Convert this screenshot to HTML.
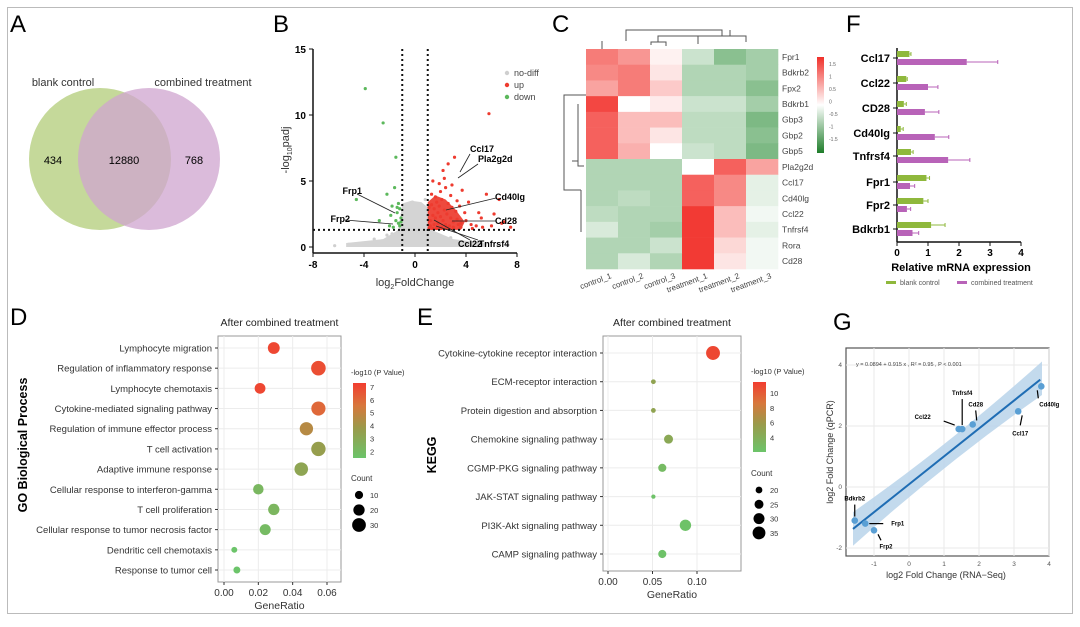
<!DOCTYPE html>
<html><head><meta charset="utf-8">
<style>
html,body{margin:0;padding:0;background:#fff;}
svg{display:block;font-family:"Liberation Sans",Arial,sans-serif;}
</style></head>
<body>
<svg id="fig" width="1080" height="627" viewBox="0 0 1080 627" xmlns="http://www.w3.org/2000/svg">
<defs>
<linearGradient id="gD" x1="0" y1="1" x2="0" y2="0"><stop offset="0" stop-color="#6cc46a"/><stop offset="0.4" stop-color="#9a9a4a"/><stop offset="0.7" stop-color="#d8773c"/><stop offset="1" stop-color="#f23d30"/></linearGradient>
<linearGradient id="gH" x1="0" y1="1" x2="0" y2="0"><stop offset="0" stop-color="#1e7d2a"/><stop offset="0.5" stop-color="#ffffff"/><stop offset="1" stop-color="#f0302a"/></linearGradient>
</defs>
<rect x="7.5" y="7.5" width="1065" height="606" fill="none" stroke="#bbb" stroke-width="1"/>
<g id="A">
<text x="10" y="32" font-size="24">A</text>
<circle cx="100" cy="159" r="71" fill="#c5d99a"/>
<circle cx="149" cy="159" r="71" fill="#cfa4cf" fill-opacity="0.75"/>
<text x="63" y="86" font-size="11" text-anchor="middle" fill="#333">blank control</text>
<text x="203" y="86" font-size="11" text-anchor="middle" fill="#333">combined treatment</text>
<text x="53" y="164" font-size="11" text-anchor="middle">434</text>
<text x="124" y="164" font-size="11" text-anchor="middle">12880</text>
<text x="194" y="164" font-size="11" text-anchor="middle">768</text>
</g>
<g id="B"></g>
<g id="C"></g>
<g id="F"></g>
<g id="D"></g>
<g id="E"></g>
<g id="G"></g>
</svg>
<script>
// ---------- Panel B data ----------
const volcUpX=[1.2,1.4,1.6,1.8,2.0,2.2,2.5,2.8,3.0,3.3,3.6,4.0,4.4,4.8,5.3,6.0,6.8,7.5,1.1,1.3,1.5,1.7,1.9,2.1,2.3,2.6,2.9,3.2,3.5,3.9,1.2,1.5,1.8,2.1,2.4,2.7,3.0,3.4,1.3,1.6,2.0,2.4,2.8,1.4,1.9,2.3,2.2,2.6,3.1,5.8,2.9,3.3,3.7,4.2,5.0,5.6,6.6,1.1,1.4,1.7,2.0,2.5,3.0,3.6,4.5,5.2,6.2,7.0];
const volcUpY=[2.0,2.4,2.2,2.6,2.3,2.0,2.5,2.2,1.9,2.1,1.8,2.0,1.7,1.6,1.5,1.6,1.8,1.5,3.0,3.2,2.9,3.4,3.1,3.6,2.8,3.3,3.0,2.7,3.1,2.6,1.6,1.7,1.8,1.5,1.7,1.6,1.5,1.7,4.0,3.8,4.2,4.5,3.9,5.0,4.8,5.2,5.8,6.3,6.8,10.1,4.7,3.5,4.3,3.4,2.6,4.0,3.6,1.4,1.4,1.4,1.4,1.5,1.4,1.5,1.4,2.2,2.5,1.9];
const volcDownX=[-3.9,-2.5,-1.5,-4.6,-2.2,-1.6,-1.3,-1.8,-1.2,-1.4,-1.1,-2.8,-1.5,-1.3,-1.2,-1.7,-2.0,-1.1,-1.9,-1.4];
const volcDownY=[12.0,9.4,6.8,3.6,4.0,4.5,3.3,3.1,2.9,2.6,2.2,2.0,2.0,1.8,1.6,1.5,1.6,1.9,2.4,3.0];
const volcNsX=[-5.2,-4.6,-4.0,-3.5,-3.0,-2.5,-2.0,-1.5,-1.0,-0.5,0,0.5,1,1.5,2,2.5,3,3.5,4,4.5,5,5.5,-0.8,-0.6,-0.4,-0.2,0.2,0.4,0.6,0.8,-0.7,-0.3,0.3,0.7,-0.5,0.5,-0.9,0.9,-2.2,-1.8,-6.3,6.5,7.2,-3.2,2.8];
const volcNsY=[0.2,0.2,0.3,0.2,0.4,0.3,0.5,0.6,0.8,1.0,1.2,1.0,0.8,0.6,0.5,0.4,0.3,0.3,0.2,0.2,0.2,0.2,2.0,2.6,3.0,3.4,3.2,2.8,2.4,3.6,1.5,1.8,1.7,1.4,0.4,0.4,1.1,1.2,0.9,1.0,0.1,0.1,0.1,0.6,0.7];
const volcLabels=["Ccl17","Pla2g2d","Cd40lg","Cd28","Ccl22","Tnfrsf4","Frp1","Frp2"];
const volcXTicks=[-8,-4,0,4,8];
const volcYTicks=[0,5,10,15];
// ---------- Panel C data ----------
const heatRows=["Fpr1","Bdkrb2","Fpx2","Bdkrb1","Gbp3","Gbp2","Gbp5","Pla2g2d","Ccl17","Cd40lg","Ccl22","Tnfrsf4","Rora","Cd28"];
const heatCols=["control_1","control_2","control_3","treatment_1","treatment_2","treatment_3"];
const heatVals=[[1.0,0.8,0.1,-0.4,-0.9,-0.7],[0.9,1.0,0.2,-0.6,-0.6,-0.7],[0.7,1.0,0.4,-0.6,-0.6,-0.9],[1.4,0.0,0.15,-0.4,-0.4,-0.7],[1.2,0.5,0.5,-0.5,-0.5,-1.0],[1.2,0.5,0.2,-0.5,-0.5,-0.9],[1.2,0.6,0.0,-0.4,-0.5,-1.0],[-0.6,-0.6,-0.6,0.0,1.2,0.7],[-0.6,-0.6,-0.6,1.2,0.9,-0.2],[-0.6,-0.5,-0.6,1.2,0.9,-0.2],[-0.5,-0.6,-0.6,1.5,0.5,-0.1],[-0.3,-0.6,-0.7,1.5,0.5,-0.2],[-0.6,-0.6,-0.4,1.5,0.3,-0.1],[-0.6,-0.3,-0.6,1.5,0.2,-0.1]];
const heatLegendTicks=[1.5,1,0.5,0,-0.5,-1,-1.5];
// ---------- Panel F data ----------
const barGenes=["Ccl17","Ccl22","CD28","Cd40lg","Tnfrsf4","Fpr1","Fpr2","Bdkrb1"];
const barBlank=[0.4,0.3,0.22,0.12,0.45,0.95,0.85,1.1];
const barBlankErr=[0.05,0.03,0.08,0.08,0.07,0.1,0.15,0.45];
const barComb=[2.25,1.0,0.9,1.22,1.65,0.42,0.32,0.5];
const barCombErr=[1.0,0.32,0.45,0.45,0.7,0.15,0.12,0.2];
const barXTicks=[0,1,2,3,4];
// ---------- Panel D data ----------
const goTerms=["Lymphocyte migration","Regulation of inflammatory response","Lymphocyte chemotaxis","Cytokine-mediated signaling pathway","Regulation of immune effector process","T cell activation","Adaptive immune response","Cellular response to interferon-gamma","T cell proliferation","Cellular response to tumor necrosis factor","Dendritic cell chemotaxis","Response to tumor cell"];
const goRatio=[0.029,0.055,0.021,0.055,0.048,0.055,0.045,0.020,0.029,0.024,0.006,0.0075];
const goLogP=[7,6.8,7,6.0,4.6,3.6,3.2,2.2,2.3,2.0,1.5,1.5];
const goCount=[22,34,18,32,28,33,29,17,20,19,5,7];
const goXTicks=[0,0.02,0.04,0.06];
const goPTicks=[2,3,4,5,6,7];
const goCountTicks=[10,20,30];
// ---------- Panel E data ----------
const keggTerms=["Cytokine-cytokine receptor interaction","ECM-receptor interaction","Protein digestion and absorption","Chemokine signaling pathway","CGMP-PKG signaling pathway","JAK-STAT signaling pathway","PI3K-Akt signaling pathway","CAMP signaling pathway"];
const keggRatio=[0.118,0.051,0.051,0.068,0.061,0.051,0.087,0.061];
const keggLogP=[11,5.0,5.0,4.5,2.8,2.2,2.2,2.2];
const keggCount=[38,16,16,25,23,15,31,23];
const keggXTicks=[0,0.05,0.10];
const keggPTicks=[4,6,8,10];
const keggCountTicks=[20,25,30,35];
// ---------- Panel G data ----------
const qGenes=["Bdkrb2","Frp1","Frp2","Ccl22","Tnfrsf4","Cd28","Ccl17","Cd40lg"];
const qSeq=[-1.55,-1.25,-1.0,1.42,1.52,1.82,3.12,3.78];
const qPcr=[-1.1,-1.2,-1.42,1.9,1.9,2.05,2.48,3.3];
const qXTicks=[-1,0,1,2,3,4];
const qYTicks=[-2,0,2,4];
const qFit=[0.0894,0.915];

const NS="http://www.w3.org/2000/svg";
function mk(parent,tag,attrs,text){const e=document.createElementNS(NS,tag);for(const k in attrs)e.setAttribute(k,attrs[k]);if(text!==undefined)e.textContent=text;parent.appendChild(e);return e;}
function lin(d0,d1,r0,r1){return v=>r0+(v-d0)*(r1-r0)/(d1-d0);}

// ===== Panel B =====
(function(){
const g=document.getElementById('B');
let e=mk(g,'text',{x:273,y:32,'font-size':24},'B');


const x=lin(-8,8,313,517), y=lin(0,15,247,49);
volcNsX.forEach((v,i)=>{const c=mk(g,'circle',{cx:x(v),cy:y(volcNsY[i]),r:1.6,fill:'#cfcfcf'});

});
mk(g,'path',{d:`M${x(-5.4)},${y(0)} L${x(-5.4)},${y(0.3)} L${x(-2.5)},${y(0.6)} L${x(-1.3)},${y(1.3)} L${x(-1)},${y(3.3)} L${x(-0.3)},${y(3.5)} L${x(0.5)},${y(3.4)} L${x(1)},${y(3.0)} L${x(1.3)},${y(1.3)} L${x(3)},${y(0.6)} L${x(5.6)},${y(0.3)} L${x(5.6)},${y(0)} Z`,fill:'#d4d4d4'});
e=mk(g,'path',{d:`M${x(1)},${y(1.3)} L${x(1)},${y(3.4)} L${x(1.6)},${y(3.9)} L${x(2.4)},${y(3.6)} L${x(3.2)},${y(2.8)} L${x(3.9)},${y(1.9)} L${x(3.6)},${y(1.3)} Z`,fill:'#ee4a3e'});


volcUpX.forEach((v,i)=>{const c=mk(g,'circle',{cx:x(v),cy:y(volcUpY[i]),r:1.6,fill:'#ee3b2f'});

});
volcDownX.forEach((v,i)=>{const c=mk(g,'circle',{cx:x(v),cy:y(volcDownY[i]),r:1.6,fill:'#5cb85c'});

});
mk(g,'line',{x1:x(-1),x2:x(-1),y1:49,y2:253,stroke:'#111','stroke-width':2,'stroke-dasharray':'2,3'});
mk(g,'line',{x1:x(1),x2:x(1),y1:49,y2:253,stroke:'#111','stroke-width':2,'stroke-dasharray':'2,3'});
mk(g,'line',{x1:313,x2:517,y1:y(1.3),y2:y(1.3),stroke:'#111','stroke-width':2,'stroke-dasharray':'2,3'});
mk(g,'line',{x1:313,x2:313,y1:49,y2:253,stroke:'#111','stroke-width':1.5});
mk(g,'line',{x1:313,x2:517,y1:253,y2:253,stroke:'#111','stroke-width':1.5});
volcYTicks.forEach(t=>{mk(g,'line',{x1:309,x2:313,y1:y(t),y2:y(t),stroke:'#111'});
const l=mk(g,'text',{x:306,y:y(t)+4,'font-size':10,'text-anchor':'end','font-weight':'bold'},t);

});
volcXTicks.forEach(t=>{mk(g,'line',{x1:x(t),x2:x(t),y1:253,y2:257,stroke:'#111'});
const l=mk(g,'text',{x:x(t),y:268,'font-size':10,'text-anchor':'middle','font-weight':'bold'},t);

});
e=mk(g,'text',{x:415,y:286,'font-size':11,'text-anchor':'middle',fill:'#333'});
e.innerHTML='log<tspan font-size="7" dy="3">2</tspan><tspan dy="-3">FoldChange</tspan>';


e=mk(g,'text',{transform:'translate(289,150) rotate(-90)','font-size':11,'text-anchor':'middle',fill:'#333'});
e.innerHTML='-log<tspan font-size="7" dy="3">10</tspan><tspan dy="-3">padj</tspan>';


[['no-diff','#cfcfcf',76],['up','#ee3b2f',88],['down','#5cb85c',100]].forEach(r=>{
mk(g,'circle',{cx:507,cy:r[2]-3,r:2.2,fill:r[1]});
const l=mk(g,'text',{x:514,y:r[2],'font-size':9,fill:'#444'},r[0]);

});
const ann=[[470,154,460,172],[478,164,458,178],[496,198,446,210],[496,221,452,221],[470,240,434,220],[478,240,436,226],[357,194,395,213],[345,220,393,224]];
const annTxt=[[470,152,'start'],[478,162,'start'],[495,200,'start'],[495,224,'start'],[470,247,'middle'],[494,247,'middle'],[362,194,'end'],[350,222,'end']];
volcLabels.forEach((n,i)=>{const a=ann[i];mk(g,'line',{x1:a[0],y1:a[1],x2:a[2],y2:a[3],stroke:'#222','stroke-width':0.8});
const t=annTxt[i];const l=mk(g,'text',{x:t[0],y:t[1],'font-size':9,'font-weight':'bold','text-anchor':t[2]},n);

});
})();

// ===== Panel C =====
(function(){
const g=document.getElementById('C');
let e=mk(g,'text',{x:552,y:32,'font-size':24},'C');


const x0=586,cw=32,y0=49,rh=(269-49)/14;
function col(v){const t=Math.max(-1,Math.min(1,v/1.5));
if(t>=0){return `rgb(${Math.round(255-(255-242)*t)},${Math.round(255-(255-58)*t)},${Math.round(255-(255-52)*t)})`;}
const s=-t;return `rgb(${Math.round(255-(255-60)*s)},${Math.round(255-(255-150)*s)},${Math.round(255-(255-70)*s)})`;}
heatVals.forEach((row,i)=>row.forEach((v,j)=>{const r=mk(g,'rect',{x:x0+j*cw,y:y0+i*rh,width:cw+0.3,height:rh+0.3,fill:col(v)});

}));
heatRows.forEach((n,i)=>{const l=mk(g,'text',{x:782,y:y0+i*rh+rh/2+3,'font-size':8.5,fill:'#444'},n);

});
heatCols.forEach((n,j)=>{const l=mk(g,'text',{transform:`translate(${x0+j*cw+26},${278}) rotate(-20)`,'font-size':8,'text-anchor':'end',fill:'#444'},n);

});
e=mk(g,'rect',{x:817,y:57,width:7,height:96,fill:'url(#gH)'});


heatLegendTicks.forEach((t,i)=>{mk(g,'text',{x:829,y:66+i*12.5,'font-size':5,fill:'#666'},t);});
const st={stroke:'#555','stroke-width':1,fill:'none'};
mk(g,'path',Object.assign({d:'M602,41 V49 M626,41 V30 H722 V36 M651,45 V42 H666 V46 M658,42 V36 H730 M698,36 V44 M722,36 H746 V42 M730,36 V30'},st));
mk(g,'path',Object.assign({d:'M586,95 H564 V190 H581 M578,104 V166 H584 M581,190 V232 M572,161 H578'},st));
})();

// ===== Panel F =====
(function(){
const g=document.getElementById('F');
let e=mk(g,'text',{x:846,y:32,'font-size':24},'F');


const x=lin(0,4,897,1021);
const ys=[58,83,108,133,156,182,205,229];
mk(g,'line',{x1:897,x2:897,y1:48,y2:242,stroke:'#111','stroke-width':1.5});
mk(g,'line',{x1:897,x2:1021,y1:242,y2:242,stroke:'#111','stroke-width':1.5});
barGenes.forEach((n,i)=>{const c=ys[i];
let b=mk(g,'rect',{x:897,y:c-7,width:x(barBlank[i])-897,height:6,fill:'#8fb83c'});


mk(g,'path',{d:`M${x(barBlank[i])},${c-4} H${x(barBlank[i]+barBlankErr[i])} M${x(barBlank[i]+barBlankErr[i])},${c-6} V${c-2}`,stroke:'#8fb83c','stroke-width':1,fill:'none'});
b=mk(g,'rect',{x:897,y:c+1,width:x(barComb[i])-897,height:6,fill:'#b863b8'});


mk(g,'path',{d:`M${x(barComb[i])},${c+4} H${x(barComb[i]+barCombErr[i])} M${x(barComb[i]+barCombErr[i])},${c+2} V${c+6}`,stroke:'#b863b8','stroke-width':1,fill:'none'});
mk(g,'line',{x1:893,x2:897,y1:c,y2:c,stroke:'#111'});
const l=mk(g,'text',{x:890,y:c+4,'font-size':11,'font-weight':'bold','text-anchor':'end'},n);

});
barXTicks.forEach(t=>{mk(g,'line',{x1:x(t),x2:x(t),y1:242,y2:246,stroke:'#111'});
const l=mk(g,'text',{x:x(t),y:256,'font-size':10,'font-weight':'bold','text-anchor':'middle'},t);

});
e=mk(g,'text',{x:961,y:271,'font-size':11,'font-weight':'bold','text-anchor':'middle'},'Relative mRNA expression');


mk(g,'rect',{x:886,y:281,width:10,height:3,fill:'#8fb83c'});
e=mk(g,'text',{x:900,y:285,'font-size':7,fill:'#555'},'blank control');


mk(g,'rect',{x:957,y:281,width:10,height:3,fill:'#b863b8'});
e=mk(g,'text',{x:971,y:285,'font-size':7,fill:'#555'},'combined treatment');


})();

// ===== Dot plots =====
function dotPlot(gid,o){
const g=document.getElementById(gid);
let e=mk(g,'text',{x:o.lx,y:o.ly,'font-size':24},o.letter);


const x=lin(0,o.xmax,o.x0,o.x1);
const n=o.terms.length;const ry=i=>o.yTop+i*(o.yBot-o.yTop)/(n-1);
mk(g,'rect',{x:o.bx0,y:o.by0,width:o.bx1-o.bx0,height:o.by1-o.by0,fill:'#fff',stroke:'#999','stroke-width':1});
o.xt.forEach(t=>mk(g,'line',{x1:x(t),x2:x(t),y1:o.by0,y2:o.by1,stroke:'#ececec'}));
o.terms.forEach((t,i)=>mk(g,'line',{x1:o.bx0,x2:o.bx1,y1:ry(i),y2:ry(i),stroke:'#ececec'}));
const pc=v=>{const t=Math.max(0,Math.min(1,(v-o.pmin)/(o.pmax-o.pmin)));
const stops=[[0,[108,196,106]],[0.4,[154,154,74]],[0.7,[216,119,60]],[1,[242,61,48]]];
for(let k=1;k<stops.length;k++){if(t<=stops[k][0]){const a=stops[k-1],b=stops[k];const f=(t-a[0])/(b[0]-a[0]);return 'rgb('+a[1].map((c,j)=>Math.round(c+(b[1][j]-c)*f)).join(',')+')';}}return 'rgb(242,61,48)';};
const rr=c=>o.rA+o.rB*Math.sqrt(c);
o.terms.forEach((t,i)=>{
mk(g,'line',{x1:o.bx0-3,x2:o.bx0,y1:ry(i),y2:ry(i),stroke:'#333'});
const l=mk(g,'text',{x:o.bx0-6,y:ry(i)+3.5,'font-size':9.5,'text-anchor':'end',fill:'#333'},t);


const c=mk(g,'circle',{cx:x(o.ratio[i]),cy:ry(i),r:rr(o.count[i]),fill:pc(o.logp[i])});

});
o.xt.forEach(t=>{mk(g,'line',{x1:x(t),x2:x(t),y1:o.by1,y2:o.by1+3,stroke:'#333'});
const l=mk(g,'text',{x:x(t),y:o.by1+14,'font-size':10,'text-anchor':'middle',fill:'#333'},t.toFixed(2));

});
e=mk(g,'text',{x:(o.bx0+o.bx1)/2,y:o.by1+27,'font-size':10.5,'text-anchor':'middle',fill:'#333'},'GeneRatio');


e=mk(g,'text',{x:(o.bx0+o.bx1)/2,y:o.by0-10,'font-size':10.5,'text-anchor':'middle',fill:'#222'},'After combined treatment');


e=mk(g,'text',{transform:`translate(${o.ytx},${o.yty}) rotate(-90)`,'font-size':12.5,'font-weight':'bold','text-anchor':'middle'},o.ytitle);


e=mk(g,'text',{x:o.gx-2,y:o.gy0-8,'font-size':7.5,fill:'#333'},'-log10 (P Value)');


mk(g,'rect',{x:o.gx,y:o.gy0,width:13,height:o.gy1-o.gy0,fill:'url(#gD)'});
const gy=lin(o.pmin,o.pmax,o.gy1,o.gy0);
o.pt.forEach(t=>{mk(g,'text',{x:o.gx+17,y:gy(t)+3,'font-size':7.5,fill:'#333'},t);});
e=mk(g,'text',{x:o.gx-2,y:o.cy0-14,'font-size':8,fill:'#333'},'Count');


o.ct.forEach((t,i)=>{const cy=o.cy0+i*o.cstep;mk(g,'circle',{cx:o.gx+6,cy:cy,r:rr(t),fill:'#000'});
mk(g,'text',{x:o.gx+17,y:cy+3,'font-size':7.5,fill:'#333'},t);});
}
dotPlot('D',{letter:'D',lx:10,ly:325,terms:goTerms,ratio:goRatio,logp:goLogP,count:goCount,xmax:0.06,x0:224,x1:327,bx0:218,bx1:341,by0:336,by1:582,yTop:348,yBot:570,xt:goXTicks,pmin:1.5,pmax:7.3,pt:goPTicks,ct:goCountTicks,rA:0.3,rB:1.2,gx:353,gy0:383,gy1:458,cy0:495,cstep:15,ytitle:'GO Biological Process',ytx:27,yty:445});
dotPlot('E',{letter:'E',lx:417,ly:325,terms:keggTerms,ratio:keggRatio,logp:keggLogP,count:keggCount,xmax:0.10,x0:608,x1:697,bx0:603,bx1:741,by0:336,by1:571,yTop:353,yBot:554,xt:keggXTicks,pmin:2,pmax:11.5,pt:keggPTicks,ct:keggCountTicks,rA:-6,rB:2.1,gx:753,gy0:382,gy1:452,cy0:490,cstep:14.3,ytitle:'KEGG',ytx:436,yty:455});

// ===== Panel G =====
(function(){
const g=document.getElementById('G');
let e=mk(g,'text',{x:833,y:330,'font-size':24},'G');


const x=lin(0,1,909,944), y=lin(0,2,487,426);
mk(g,'rect',{x:846,y:348,width:203,height:208,fill:'#fff',stroke:'#555','stroke-width':1.2});
qXTicks.forEach(t=>mk(g,'line',{x1:x(t),x2:x(t),y1:348,y2:556,stroke:'#eaeaea'}));
qYTicks.forEach(t=>mk(g,'line',{x1:846,x2:1049,y1:y(t),y2:y(t),stroke:'#eaeaea'}));
const fx0=-1.6,fx1=3.8,fy=v=>qFit[0]+qFit[1]*v;
const w0=0.55,wm=0.25,w1=0.55;
e=mk(g,'path',{d:`M${x(fx0)},${y(fy(fx0)+w0)} Q${x(1.1)},${y(fy(1.1)+wm)} ${x(fx1)},${y(fy(fx1)+w1)} L${x(fx1)},${y(fy(fx1)-w1)} Q${x(1.1)},${y(fy(1.1)-wm)} ${x(fx0)},${y(fy(fx0)-w0)} Z`,fill:'#b8d4ea',opacity:0.85});


e=mk(g,'line',{x1:x(fx0),y1:y(fy(fx0)),x2:x(3.75),y2:y(fy(3.75)),stroke:'#1f6db4','stroke-width':2});


qSeq.forEach((v,i)=>{const c=mk(g,'circle',{cx:x(v),cy:y(qPcr[i]),r:3.3,fill:'#5a9fd4'});

});
const ann=[[-1.55,-1.1,0,-16,0,-20],[-1.25,-1.2,18,0,26,2],[-1.0,-1.42,7,10,12,18],[1.42,1.9,-15,-8,-28,-10],[1.52,1.9,0,-30,0,-34],[1.82,2.05,3,-14,3,-18],[3.12,2.48,2,14,2,24],[3.78,3.3,-3,12,8,20]];
qGenes.forEach((n,i)=>{const a=ann[i];const px=x(a[0]),py=y(a[1]);
const sx=a[2]>0?4:(a[2]<0?-4:0), sy=a[3]>0?4:(a[3]<0?-4:0);
mk(g,'line',{x1:px+sx,y1:py+sy,x2:px+a[2],y2:py+a[3],stroke:'#000','stroke-width':1.2});
const l=mk(g,'text',{x:px+a[4],y:py+a[5],'font-size':6,'font-weight':'bold','text-anchor':a[2]>10?'start':(a[2]<-10?'end':'middle')},n);

});
qXTicks.forEach(t=>{const l=mk(g,'text',{x:x(t),y:566,'font-size':6.5,'text-anchor':'middle',fill:'#555'},t);

});
qYTicks.forEach(t=>{const l=mk(g,'text',{x:842,y:y(t)+2,'font-size':6.5,'text-anchor':'end',fill:'#555'},t);

});
e=mk(g,'text',{x:946,y:578,'font-size':9,'text-anchor':'middle',fill:'#333'},'log2 Fold Change (RNA−Seq)');


e=mk(g,'text',{transform:'translate(833,452) rotate(-90)','font-size':9,'text-anchor':'middle',fill:'#333'},'log2 Fold Change (qPCR)');


e=mk(g,'text',{x:856,y:366,'font-size':5.5,fill:'#444'},'y = 0.0894 + 0.915 x ,  R² = 0.95 ,  P < 0.001');


})();
</script>
</body></html>
